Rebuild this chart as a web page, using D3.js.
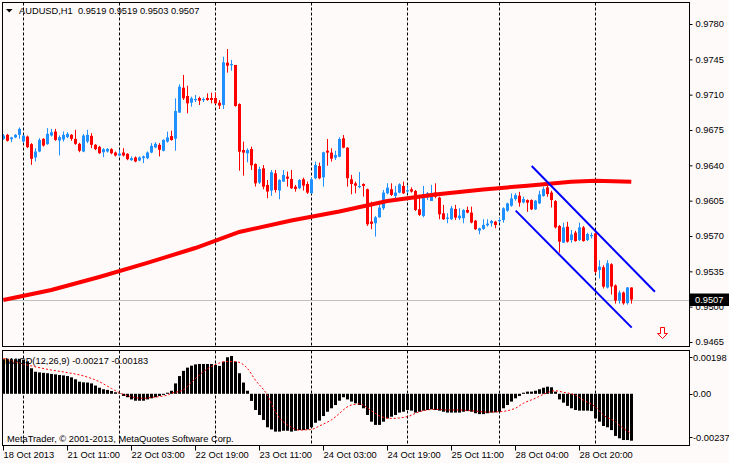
<!DOCTYPE html>
<html>
<head>
<meta charset="utf-8">
<script src="https://cdn.jsdelivr.net/npm/d3@7"></script>
<style>
body{margin:0;background:#fffafa}
svg{display:block}
text{font-family:"Liberation Sans",Arial,sans-serif;font-size:9.3px;fill:#000}
</style>
</head>
<body>
<div id="chart"></div>
<script>
// AUDUSD H1, bars from 18 Oct 19:00 to 29 Oct 09:00 — [open, high, low, close]
const ohlc = [
[0.96662,0.96709,0.96653,0.96695],[0.96702,0.96712,0.96636,0.96643],[0.96659,0.96682,0.96629,0.96676],[0.96676,0.96709,0.96669,0.96702],
[0.96702,0.96775,0.96662,0.96761],[0.96636,0.96702,0.96620,0.96695],[0.96685,0.96695,0.96570,0.96580],[0.96610,0.96620,0.96405,0.96464],
[0.96478,0.96570,0.96438,0.96537],[0.96537,0.96669,0.96530,0.96652],[0.96662,0.96669,0.96586,0.96596],[0.96610,0.96768,0.96603,0.96712],
[0.96695,0.96761,0.96685,0.96728],[0.96735,0.96761,0.96643,0.96652],[0.96646,0.96695,0.96497,0.96679],[0.96656,0.96735,0.96636,0.96702],
[0.96679,0.96728,0.96669,0.96712],[0.96702,0.96709,0.96643,0.96662],[0.96662,0.96752,0.96603,0.96613],[0.96613,0.96623,0.96530,0.96544],
[0.96537,0.96709,0.96530,0.96695],[0.96636,0.96752,0.96620,0.96702],[0.96692,0.96719,0.96570,0.96603],[0.96603,0.96610,0.96550,0.96560],
[0.96583,0.96593,0.96514,0.96520],[0.96530,0.96570,0.96481,0.96560],[0.96537,0.96570,0.96527,0.96563],[0.96560,0.96570,0.96510,0.96520],
[0.96527,0.96537,0.96488,0.96497],[0.96497,0.96554,0.96488,0.96517],[0.96527,0.96570,0.96488,0.96497],[0.96514,0.96520,0.96451,0.96461],
[0.96451,0.96488,0.96445,0.96471],[0.96478,0.96488,0.96431,0.96438],[0.96448,0.96488,0.96441,0.96478],[0.96471,0.96497,0.96422,0.96488],
[0.96471,0.96537,0.96461,0.96527],[0.96527,0.96620,0.96520,0.96593],[0.96577,0.96629,0.96570,0.96613],[0.96603,0.96620,0.96488,0.96554],
[0.96544,0.96659,0.96537,0.96652],[0.96635,0.96734,0.96625,0.96677],[0.96690,0.96743,0.96644,0.96651],[0.96664,0.97064,0.96545,0.96938],
[0.96922,0.97202,0.96922,0.97179],[0.97169,0.97295,0.97047,0.97064],[0.97087,0.97189,0.96915,0.97014],[0.97021,0.97080,0.96981,0.97064],
[0.97047,0.97097,0.97027,0.97057],[0.97067,0.97080,0.96998,0.97040],[0.97047,0.97073,0.97027,0.97057],[0.97067,0.97113,0.97040,0.97047],
[0.97067,0.97120,0.97014,0.97047],[0.97067,0.97120,0.97007,0.97014],[0.97021,0.97047,0.96958,0.96991],[0.96998,0.97476,0.96958,0.97420],
[0.97417,0.97552,0.97318,0.97387],[0.97394,0.97443,0.97337,0.97403],[0.97394,0.97394,0.96981,0.96988],[0.97007,0.97014,0.96347,0.96535],
[0.96552,0.96635,0.96298,0.96526],[0.96519,0.96569,0.96430,0.96552],[0.96562,0.96585,0.96354,0.96400],[0.96413,0.96420,0.96190,0.96222],
[0.96229,0.96387,0.96215,0.96364],[0.96370,0.96403,0.96163,0.96189],[0.96206,0.96255,0.96074,0.96140],[0.96150,0.96354,0.96097,0.96331],
[0.96321,0.96354,0.96130,0.96156],[0.96150,0.96262,0.96064,0.96255],[0.96239,0.96354,0.96239,0.96305],[0.96288,0.96338,0.96189,0.96268],
[0.96265,0.96354,0.96166,0.96173],[0.96189,0.96206,0.96139,0.96166],[0.96173,0.96262,0.96163,0.96255],[0.96262,0.96278,0.96150,0.96199],
[0.96215,0.96239,0.96117,0.96130],[0.96123,0.96281,0.96117,0.96262],[0.96272,0.96437,0.96262,0.96403],[0.96393,0.96427,0.96262,0.96272],
[0.96281,0.96535,0.96189,0.96529],[0.96545,0.96661,0.96397,0.96526],[0.96526,0.96569,0.96437,0.96466],[0.96476,0.96545,0.96453,0.96503],
[0.96486,0.96677,0.96480,0.96661],[0.96668,0.96700,0.96569,0.96575],[0.96575,0.96580,0.96189,0.96272],[0.96262,0.96305,0.96113,0.96215],
[0.96222,0.96239,0.96123,0.96199],[0.96186,0.96334,0.96173,0.96196],[0.96215,0.96222,0.96090,0.96196],[0.96163,0.96170,0.95800,0.95816],
[0.95843,0.96040,0.95767,0.95820],[0.95826,0.95899,0.95694,0.95885],[0.95885,0.96008,0.95882,0.95981],[0.95975,0.96156,0.95958,0.96130],
[0.96123,0.96222,0.96113,0.96179],[0.96163,0.96222,0.96097,0.96107],[0.96097,0.96196,0.96074,0.96130],[0.96130,0.96222,0.96123,0.96212],
[0.96196,0.96239,0.96116,0.96123],[0.96143,0.96196,0.96123,0.96153],[0.96163,0.96182,0.96130,0.96140],[0.96146,0.96156,0.95948,0.95958],
[0.95965,0.96107,0.95899,0.95909],[0.95899,0.96196,0.95885,0.96113],[0.96080,0.96136,0.96057,0.96123],[0.96047,0.96206,0.96047,0.96123],
[0.96130,0.96222,0.96074,0.96090],[0.96080,0.96090,0.95866,0.95915],[0.95925,0.96008,0.95859,0.95866],[0.95872,0.95925,0.95826,0.95882],
[0.95866,0.95998,0.95859,0.95975],[0.95968,0.96008,0.95859,0.95882],[0.95876,0.95975,0.95859,0.95902],[0.95876,0.95965,0.95826,0.95958],
[0.95958,0.95991,0.95925,0.95932],[0.95932,0.95991,0.95826,0.95833],[0.95852,0.95859,0.95760,0.95767],[0.95753,0.95783,0.95717,0.95776],
[0.95770,0.95866,0.95760,0.95810],[0.95806,0.95866,0.95793,0.95823],[0.95826,0.95860,0.95793,0.95849],[0.95842,0.95850,0.95776,0.95809],
[0.95848,0.95880,0.95830,0.95858],[0.95858,0.95984,0.95832,0.95974],[0.95950,0.96030,0.95940,0.96023],[0.96000,0.96122,0.95990,0.96072],
[0.96066,0.96122,0.96050,0.96105],[0.96099,0.96138,0.95990,0.96030],[0.96033,0.96089,0.96023,0.96066],[0.96056,0.96063,0.95940,0.96030],
[0.96056,0.96063,0.95957,0.95964],[0.95964,0.96056,0.95957,0.96050],[0.96023,0.96148,0.96016,0.96112],[0.96096,0.96188,0.96089,0.96165],
[0.96181,0.96228,0.96089,0.96115],[0.96130,0.96148,0.95983,0.96056],[0.96046,0.96056,0.95775,0.95785],[0.95799,0.95809,0.95535,0.95644],
[0.95634,0.95832,0.95630,0.95785],[0.95792,0.95840,0.95634,0.95644],[0.95660,0.95759,0.95634,0.95716],[0.95733,0.95752,0.95644,0.95650],
[0.95660,0.95832,0.95650,0.95785],[0.95785,0.95799,0.95644,0.95650],[0.95660,0.95733,0.95650,0.95720],[0.95703,0.95733,0.95676,0.95710],
[0.95726,0.95733,0.95330,0.95346],[0.95363,0.95460,0.95280,0.95396],[0.95390,0.95410,0.95180,0.95198],[0.95190,0.95460,0.95180,0.95430],
[0.95420,0.95430,0.95120,0.95200],[0.95210,0.95220,0.95030,0.95060],[0.95060,0.95160,0.95030,0.95140],[0.95140,0.95150,0.95020,0.95033],
[0.95035,0.95195,0.95020,0.95190],[0.95190,0.95190,0.95030,0.95070]
];

// moving average (red, thick) read at [bar, price]
const maPoints = [[0,0.95066],[12,0.95165],[24,0.95294],[36,0.95433],[48,0.95581],[59,0.95740],[72,0.95853],
  [84,0.95943],[96,0.96047],[108,0.96111],[120,0.96161],[131,0.96198],[142,0.96238],[148,0.96248],[157,0.96238]];

// drawn channel: [bar1, price1, bar2, price2]
const channelLines = [[128.1,0.95951,157.1,0.94792],[132.1,0.96393,162.9,0.95148]];

// sell arrow object
const arrowMark = [164.6, 0.94795];

// MACD(12,26,9) histogram, one value per bar
const macdMain = [
0.00160,0.00162,0.00160,0.00160,0.00162,0.00158,0.00150,0.00118,0.00102,0.00099,
0.00097,0.00095,0.00092,0.00090,0.00087,0.00085,0.00082,0.00076,0.00067,0.00056,
0.00053,0.00052,0.00048,0.00038,0.00028,0.00021,0.00018,0.00013,0.00007,0.00002,
-0.00010,-0.00016,-0.00026,-0.00032,-0.00032,-0.00032,-0.00026,-0.00021,-0.00016,-0.00010,
-0.00005,0.00005,0.00014,0.00048,0.00082,0.00106,0.00121,0.00130,0.00136,0.00138,
0.00138,0.00138,0.00138,0.00133,0.00129,0.00149,0.00169,0.00175,0.00149,0.00095,
0.00052,0.00014,-0.00033,-0.00075,-0.00098,-0.00121,-0.00155,-0.00165,-0.00175,-0.00175,
-0.00171,-0.00171,-0.00175,-0.00171,-0.00168,-0.00168,-0.00165,-0.00155,-0.00134,-0.00124,
-0.00103,-0.00083,-0.00067,-0.00052,-0.00032,-0.00016,-0.00026,-0.00036,-0.00044,-0.00052,
-0.00067,-0.00098,-0.00129,-0.00144,-0.00144,-0.00129,-0.00114,-0.00106,-0.00098,-0.00087,
-0.00083,-0.00075,-0.00078,-0.00087,-0.00083,-0.00078,-0.00075,-0.00072,-0.00075,-0.00078,
-0.00083,-0.00087,-0.00087,-0.00087,-0.00087,-0.00083,-0.00080,-0.00083,-0.00090,-0.00094,
-0.00094,-0.00090,-0.00087,-0.00086,-0.00083,-0.00067,-0.00052,-0.00036,-0.00021,-0.00010,
0.00005,0.00010,0.00010,0.00014,0.00021,0.00028,0.00033,0.00030,0.00010,-0.00026,
-0.00041,-0.00056,-0.00067,-0.00075,-0.00078,-0.00078,-0.00078,-0.00080,-0.00114,-0.00129,
-0.00149,-0.00155,-0.00168,-0.00195,-0.00206,-0.00214,-0.00214,-0.00217
];

// MACD signal line (red dotted) read at [bar, value]
const macdSignal = [[0,0.00164],[7,0.00129],[12,0.00110],[16,0.00098],[20,0.00083],[24,0.00056],[27,0.00025],
  [29,0.00005],[32,-0.00014],[35,-0.00021],[37,-0.00017],[41,-0.00006],[42,0.00002],[45,0.00018],[47,0.00052],
  [49,0.00087],[52,0.00126],[56,0.00149],[58,0.00149],[61,0.00118],[63,0.00064],[66,-0.00006],[68,-0.00083],
  [72,-0.00155],[74,-0.00168],[77,-0.00165],[79,-0.00149],[82,-0.00121],[87,-0.00052],[89,-0.00047],[92,-0.00078],
  [94,-0.00102],[97,-0.00114],[101,-0.00106],[104,-0.00083],[108,-0.00072],[111,-0.00075],[114,-0.00075],
  [118,-0.00080],[121,-0.00085],[124,-0.00083],[128,-0.00067],[130,-0.00044],[133,-0.00021],[135,-0.00003],
  [138,0.00014],[140,0.00007],[143,-0.00006],[145,-0.00029],[148,-0.00060],[150,-0.00098],[153,-0.00129],
  [155,-0.00160],[157,-0.00183]];

const priceTicks = [0.9780,0.9745,0.9710,0.9675,0.9640,0.9605,0.9570,0.9535,0.9500,0.9465];
const macdTicks = [0.00198,0,-0.00237];
const macdTickLabels = ["0.00198","0.00","-0.00237"];
const separatorBars = [5,29,53,77,101,124,148];
const timeTickBars = [0,16,32,48,64,80,96,112,128,144];
const timeTickLabels = ["18 Oct 2013","21 Oct 11:00","22 Oct 03:00","22 Oct 19:00","23 Oct 11:00",
  "24 Oct 03:00","24 Oct 19:00","25 Oct 11:00","28 Oct 04:00","28 Oct 20:00"];

const titleText = "AUDUSD,H1  0.9519 0.9519 0.9503 0.9507";
const macdText = "MACD(12,26,9) -0.00217 -0.00183";
const copyText = "MetaTrader, \u00a9 2001-2013, MetaQuotes Software Corp.";

const W = 729, H = 463;
const bull = "#1e90ff", bear = "#ff0000";
const left = 2.5, right = 689.5;
const mainTop = 2.5, mainBottom = 346.5, macdTop = 350.5, macdBottom = 445.5;

const svg = d3.select("#chart").append("svg")
    .attr("width", W).attr("height", H);

svg.append("rect").attr("width", W).attr("height", H).attr("fill", "#fffafa");

const x = d3.scaleLinear().domain([0, 157]).range([3.3, 631.3]);
const y = d3.scaleLinear().domain([0.9465, 0.9780]).range([342, 24]);
const yM = d3.scaleLinear().domain([-0.00237, 0.00198]).range([445, 351]);
const px = i => Math.round(x(i)) + 0.5;

//clip paths for the two panes
const defs = svg.append("defs");
defs.append("clipPath").attr("id", "clipMain").append("rect")
    .attr("x", left).attr("y", mainTop).attr("width", right - left).attr("height", mainBottom - mainTop);
defs.append("clipPath").attr("id", "clipMacd").append("rect")
    .attr("x", left).attr("y", macdTop).attr("width", right - left).attr("height", macdBottom - macdTop);

const main = svg.append("g").attr("clip-path", "url(#clipMain)");
const sub = svg.append("g").attr("clip-path", "url(#clipMacd)");

//day separators in both panes
[[main, mainTop, mainBottom], [sub, macdTop, macdBottom]].forEach(([g, t, b]) => {
    g.selectAll("line.sep").data(separatorBars).join("line")
        .attr("class", "sep")
        .attr("x1", d => px(d)).attr("x2", d => px(d))
        .attr("y1", t).attr("y2", b)
        .attr("stroke", "#000").attr("stroke-dasharray", "3,2");
});

//last price line
const lastClose = ohlc[ohlc.length - 1][3];
main.append("line")
    .attr("x1", left).attr("x2", right)
    .attr("y1", Math.round(y(lastClose)) + 0.5).attr("y2", Math.round(y(lastClose)) + 0.5)
    .attr("stroke", "#c0c0c0");

//candles
const col = d => d[3] >= d[0] ? bull : bear;
main.selectAll("line.wick").data(ohlc).join("line")
    .attr("class", "wick")
    .attr("x1", (d, i) => px(i)).attr("x2", (d, i) => px(i))
    .attr("y1", d => y(d[1])).attr("y2", d => y(d[2]))
    .attr("stroke", col);

main.selectAll("rect.body").data(ohlc).join("rect")
    .attr("class", "body")
    .attr("x", (d, i) => px(i) - 1.5)
    .attr("width", 3)
    .attr("y", d => y(Math.max(d[0], d[3])))
    .attr("height", d => Math.max(1.2, Math.abs(y(d[0]) - y(d[3]))))
    .attr("fill", col);

//moving average
main.append("path")
    .datum(maPoints)
    .attr("d", d3.line().x(d => x(d[0])).y(d => y(d[1])))
    .attr("fill", "none").attr("stroke", "#ff0000").attr("stroke-width", 4);

//channel
main.selectAll("line.chan").data(channelLines).join("line")
    .attr("class", "chan")
    .attr("x1", d => x(d[0])).attr("y1", d => y(d[1]))
    .attr("x2", d => x(d[2])).attr("y2", d => y(d[3]))
    .attr("stroke", "#0000ff").attr("stroke-width", 2);

//sell arrow
const ax = Math.round(x(arrowMark[0])) + 0.5, ay = Math.round(y(arrowMark[1])) + 0.5;
main.append("path")
    .attr("d", `M${ax - 2},${ay} h4 v6 h3 l-5,5 l-5,-5 h3 z`)
    .attr("fill", "#fffafa").attr("stroke", "#ff0000").attr("stroke-width", 1);

//MACD histogram
sub.selectAll("rect.hist").data(macdMain).join("rect")
    .attr("class", "hist")
    .attr("x", (d, i) => px(i) - 1.5)
    .attr("width", 3)
    .attr("y", d => Math.min(yM(0), yM(d)))
    .attr("height", d => Math.abs(yM(d) - yM(0)))
    .attr("fill", "#000");

sub.append("path")
    .datum(macdSignal)
    .attr("d", d3.line().x(d => x(d[0])).y(d => yM(d[1])).curve(d3.curveMonotoneX))
    .attr("fill", "none").attr("stroke", "#ff0000").attr("stroke-dasharray", "2,2");

//pane borders
[[mainTop, mainBottom], [macdTop, macdBottom]].forEach(([t, b]) => {
    svg.append("rect")
        .attr("x", left).attr("y", t).attr("width", right - left).attr("height", b - t)
        .attr("fill", "none").attr("stroke", "#000");
});

//price axis
const yAxis = svg.append("g")
    .attr("transform", `translate(${right},0)`)
    .call(d3.axisRight(y).tickValues(priceTicks).tickSize(3).tickPadding(3).tickFormat(d3.format(".4f")));
yAxis.select(".domain").remove();
yAxis.selectAll("text").attr("font-family", null).attr("font-size", null);
yAxis.selectAll("line").attr("stroke", "#000");
yAxis.attr("font-family", null).attr("font-size", null);

//last price box
svg.append("rect").attr("x", 690).attr("y", 293.5).attr("width", 39).attr("height", 12.5).attr("fill", "#000");
svg.append("text").attr("x", 695).attr("y", 303.3).text(d3.format(".4f")(lastClose)).style("fill", "#fff");

//MACD axis labels (kept inside the pane like the terminal does)
svg.selectAll("line.mtick").data(macdTicks).join("line")
    .attr("class", "mtick")
    .attr("x1", right).attr("x2", right + 3)
    .attr("y1", d => Math.max(357.5, Math.min(437.5, Math.round(yM(d)) + 0.5)))
    .attr("y2", d => Math.max(357.5, Math.min(437.5, Math.round(yM(d)) + 0.5)))
    .attr("stroke", "#000");
svg.selectAll("text.mlab").data(macdTicks).join("text")
    .attr("class", "mlab")
    .attr("x", 693)
    .attr("y", d => Math.max(357.7, Math.min(437.7, yM(d))) + 3.4)
    .text((d, i) => macdTickLabels[i]);

//time axis
svg.selectAll("line.ttick").data(timeTickBars).join("line")
    .attr("class", "ttick")
    .attr("x1", d => px(d)).attr("x2", d => px(d))
    .attr("y1", macdBottom).attr("y2", macdBottom + 5)
    .attr("stroke", "#000");
svg.selectAll("text.tlab").data(timeTickBars).join("text")
    .attr("class", "tlab")
    .attr("x", d => px(d))
    .attr("y", 458)
    .text((d, i) => timeTickLabels[i]);

//labels
svg.append("path").attr("d", "M6,9 h6.5 l-3.25,3.5 z").attr("fill", "#000");
svg.append("text").attr("x", 19).attr("y", 14.2).text(titleText).style("white-space", "pre").attr("xml:space", "preserve");
svg.append("text").attr("x", 5).attr("y", 363.5).text(macdText);
svg.append("text").attr("x", 7).attr("y", 441.6).text(copyText);
</script>
</body>
</html>
